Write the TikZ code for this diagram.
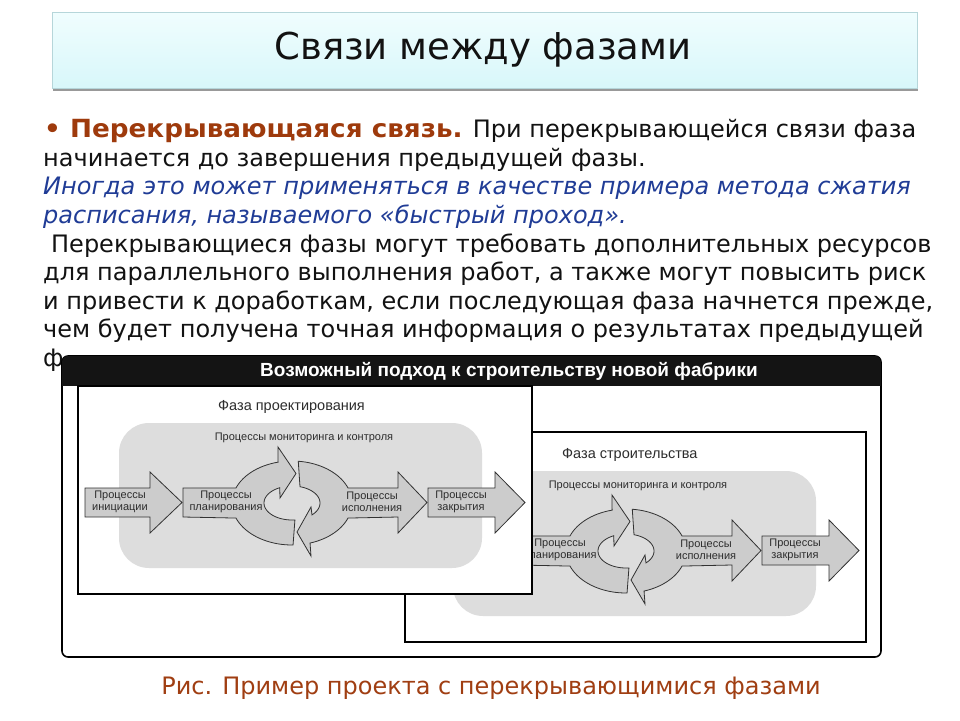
\documentclass[tikz,border=0pt]{standalone}
\usepackage{fontspec}
\setmainfont{DejaVu Sans}
\newfontfamily\widebold{DejaVu Sans}[FakeStretch=1.05]
\newfontfamily\arialfont{Liberation Sans}
\definecolor{brownc}{RGB}{158,58,12}
\definecolor{bluec}{RGB}{32,60,150}
\definecolor{capc}{RGB}{160,62,18}
\definecolor{textc}{RGB}{18,18,18}
\definecolor{titletop}{RGB}{240,253,254}
\definecolor{titlebot}{RGB}{216,247,250}
\definecolor{titleborder}{RGB}{182,214,218}
\definecolor{regc}{RGB}{221,221,221}
\definecolor{arrc}{RGB}{204,204,204}
\definecolor{arrline}{RGB}{50,50,50}
\definecolor{figtext}{RGB}{45,45,45}
\tikzset{
  bodyline/.style={anchor=base west, inner sep=0pt, text=textc, font=\fontsize{24}{28}\selectfont},
  arrowst/.style={fill=arrc, draw=arrline, line width=0.8pt, line join=miter},
  regst/.style={fill=regc, rounded corners=30pt},
  phasebox/.style={draw=black, line width=2.6pt, fill=white},
  arrlbl/.style={align=center, inner sep=0pt, text=figtext, font=\arialfont\fontsize{11}{12.5}\selectfont},
  monlbl/.style={inner sep=0pt, text=figtext, font=\arialfont\fontsize{11}{13}\selectfont},
  phlbl/.style={anchor=west, inner sep=0pt, text=figtext, font=\arialfont\fontsize{14.5}{16}\selectfont},
}
\newcommand{\phasecontent}[1]{%
  \fill[regst] (119,423) rectangle (482,568);
  \node[monlbl] (#1mon) at (304,438) {Процессы мониторинга и контроля};
  % initiation arrow
  \draw[arrowst] (85,488) -- (150,488) -- (150,472) -- (182,502.5) -- (150,533) -- (150,517) -- (85,517) -- cycle;
  % planning arrow with left half of cycle
  \draw[arrowst] (183,488)
    -- plot[domain=201:256.6, samples=16] ({292+60*cos(\x)}, {503+42*sin(\x)})
    -- (278,447) -- (296,473.5) -- (280,498)
    -- plot[domain=244:84, samples=30] ({292+28*cos(\x)}, {503+17*sin(\x)})
    -- plot[domain=89:159, samples=20] ({292+60*cos(\x)}, {503+42*sin(\x)})
    -- (183,517) -- cycle;
  % execution arrow with right half of cycle
  \draw[arrowst] plot[domain=276:339, samples=20] ({292+60*cos(\x)}, {503+42*sin(\x)})
    -- (398,488) -- (398,472) -- (427,502.5) -- (398,533) -- (398,517)
    -- plot[domain=21:72.5, samples=16] ({292+60*cos(\x)}, {503+42*sin(\x)})
    -- (311,556) -- (297,532) -- (311,507)
    -- plot[domain=44.4:-73.4, samples=30] ({292+28*cos(\x)}, {503+17*sin(\x)})
    -- cycle;
  % closing arrow
  \draw[arrowst] (428,488) -- (495,488) -- (495,472) -- (525,502.5) -- (495,533) -- (495,517) -- (428,517) -- cycle;
  \node[arrlbl] (#1ini) at (120,502) {Процессы\\инициации};
  \node[arrlbl] (#1pla) at (226,502) {Процессы\\планирования};
  \node[arrlbl] (#1exe) at (372,502) {Процессы\\исполнения};
  \node[arrlbl] (#1clo) at (461,502) {Процессы\\закрытия};
}
\begin{document}
\begin{tikzpicture}[x=1pt,y=-1pt]
\useasboundingbox (0,0) rectangle (960,720);
\fill[white] (0,0) rectangle (960,720);
% title
\fill[black!40] (53,15) rectangle (918,91);
\shade[top color=titletop, bottom color=titlebot] (52,12) rectangle (917,88);
\draw[titleborder, line width=0.8pt] (52,12) rectangle (917,88);
\node[text=textc, font=\fontsize{37}{40}\selectfont, inner sep=0pt] (title) at (483,50) {Связи между фазами};
% body text
\node[bodyline] (l1) at (44,137) {{\color{brownc}\widebold\bfseries\fontsize{25}{28}\selectfont • Перекрывающаяся связь.} При перекрывающейся связи фаза};
\node[bodyline] (l2) at (43,166) {начинается до завершения предыдущей фазы.};
\node[bodyline, text=bluec, font=\fontsize{24}{28}\selectfont\itshape] (l3) at (43,194.5) {Иногда это может применяться в качестве примера метода сжатия};
\node[bodyline, text=bluec, font=\fontsize{24}{28}\selectfont\itshape] (l4) at (43,223) {расписания, называемого «быстрый проход».};
\node[bodyline] (l5) at (51,252) {Перекрывающиеся фазы могут требовать дополнительных ресурсов};
\node[bodyline] (l6) at (43,280) {для параллельного выполнения работ, а также могут повысить риск};
\node[bodyline] (l7) at (43,309) {и привести к доработкам, если последующая фаза начнется прежде,};
\node[bodyline] (l8) at (43,337) {чем будет получена точная информация о результатах предыдущей};
\node[bodyline] (l9) at (43,366) {ф};
% figure frame
\draw[black, line width=1.6pt, fill=white, rounded corners=6pt] (62,356) rectangle (881,657);
\begin{scope}
  \clip[rounded corners=6pt] (62,356) rectangle (881,657);
  \fill[black!92] (62,356) rectangle (881,386);
\end{scope}
\node[text=white, font=\arialfont\bfseries\fontsize{19}{22}\selectfont, inner sep=0pt] (head) at (509,371) {Возможный подход к строительству новой фабрики};
% right phase (construction)
\draw[phasebox] (405,432) rectangle (866,642);
\begin{scope}[shift={(334,48)}]
  \phasecontent{b}
\end{scope}
\node[phlbl] (bph) at (562,455) {Фаза строительства};
% left phase (design)
\draw[phasebox] (78,386) rectangle (532,594);
\phasecontent{a}
\node[phlbl] (aph) at (218,407) {Фаза проектирования};
% caption
\node[text=capc, font=\fontsize{24}{28}\selectfont, inner sep=0pt] (cap) at (491,688) {Рис. Пример проекта с перекрывающимися фазами};
\end{tikzpicture}
\end{document}
